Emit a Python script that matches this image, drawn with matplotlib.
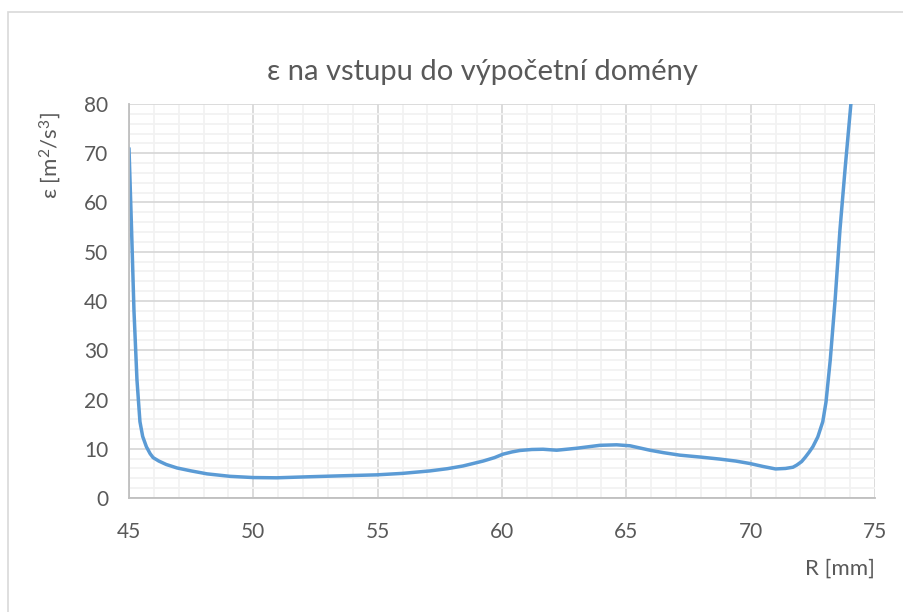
import numpy as np
import matplotlib.pyplot as plt
from matplotlib.patches import Rectangle

# epsilon profile at the domain inlet
r_mm = [45.0, 45.1, 45.2, 45.32, 45.44, 45.55, 45.7, 45.85, 45.97, 46.2, 46.5, 46.93,
        47.5, 48.14, 49.06, 50.0, 50.94, 52.16, 53.5, 54.96, 56.0, 57.1, 57.8,
        58.43, 59.24, 59.7, 60.04, 60.4, 60.72, 61.2, 61.65, 62.2, 63.0, 63.94,
        64.61, 65.15, 65.95, 66.5, 67.15, 68.0, 68.76, 69.4, 69.97, 70.5, 71.0,
        71.4, 71.7, 71.86, 72.05, 72.2, 72.35, 72.5, 72.7, 72.9, 73.03, 73.2, 73.4,
        73.59, 73.8, 74.03, 74.1]
eps = [71.0, 55.0, 38.0, 24.0, 15.5, 12.5, 10.4, 9.0, 8.2, 7.5, 6.8, 6.1,
       5.5, 4.9, 4.4, 4.15, 4.1, 4.3, 4.5, 4.7, 5.0, 5.5, 5.95,
       6.5, 7.5, 8.2, 8.9, 9.35, 9.65, 9.85, 9.9, 9.7, 10.1, 10.7,
       10.8, 10.6, 9.7, 9.2, 8.7, 8.3, 7.9, 7.5, 7.0, 6.4, 5.9,
       6.0, 6.25, 6.7, 7.4, 8.3, 9.3, 10.4, 12.4, 15.5, 19.5, 28.0, 40.5,
       54.4, 67.0, 80.0, 84.0]

x_ticks = [45, 50, 55, 60, 65, 70, 75]
y_ticks = [0, 10, 20, 30, 40, 50, 60, 70, 80]

plt.rcParams['font.family'] = ['Lato', 'DejaVu Sans']
plt.rcParams['mathtext.fontset'] = 'custom'
plt.rcParams['mathtext.rm'] = 'Lato'
plt.rcParams['mathtext.it'] = 'Lato'
text_col = '#595959'

fig = plt.figure(figsize=(9.04, 6.12), dpi=100)
fig.patches.append(Rectangle((8 / 904, -0.1), 1.2, 1 - 12 / 612 + 0.1, transform=fig.transFigure,
                             fill=False, edgecolor='#d9d9d9', linewidth=1.2))

ax = fig.add_axes([129 / 904, 1 - 498 / 612, (875 - 129) / 904, (498 - 104) / 612])
ax.plot(r_mm, eps, color='#5b9bd5', linewidth=2.5, solid_capstyle='round',
        solid_joinstyle='round')

ax.set_xlim(45, 75)
ax.set_ylim(0, 80)
ax.set_xticks(x_ticks)
ax.set_yticks(y_ticks)
ax.set_xticks(np.arange(45, 76, 1), minor=True)
ax.set_yticks(np.arange(0, 81, 2), minor=True)
ax.grid(True, which='minor', color='#f2f2f2', linewidth=1.3)
ax.grid(True, which='major', color='#d9d9d9', linewidth=1.3)
ax.set_axisbelow(True)

for s in ['top', 'right']:
    ax.spines[s].set_visible(False)
for s in ['left', 'bottom']:
    ax.spines[s].set_color('#bfbfbf')
    ax.spines[s].set_linewidth(1.3)
ax.tick_params(which='both', length=0)
ax.tick_params(axis='x', pad=17, labelsize=15, labelcolor=text_col)
ax.tick_params(axis='y', pad=15, labelsize=15, labelcolor=text_col)

fig.text(482 / 904, 1 - 72 / 612, 'ε na vstupu do výpočetní domény', fontsize=21,
         color=text_col, ha='center', va='center')
ax.set_xlabel('R [mm]', fontsize=16, color=text_col, loc='right')
ax.xaxis.set_label_coords(1.0, -0.155)
ax.set_ylabel('ε [m$\\mathrm{^2}$/s$\\mathrm{^3}$]', fontsize=16, color=text_col)
ax.yaxis.set_label_coords(-0.088, 0.87)

fig.savefig('out.png', dpi=100)
